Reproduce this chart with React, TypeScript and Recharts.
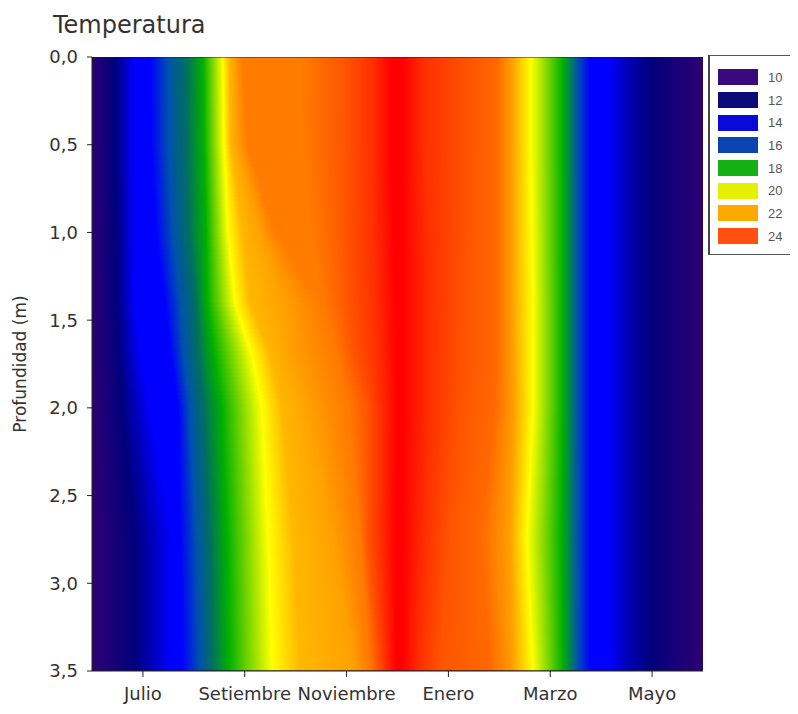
import React from 'react'
import { ComposedChart, XAxis, YAxis, ReferenceArea, Legend } from 'recharts'

// axis ticks
const MONTH_TICKS = [1, 3, 5, 7, 9, 11]
const MONTH_LABELS = ['Julio', 'Setiembre', 'Noviembre', 'Enero', 'Marzo', 'Mayo']
const DEPTH_TICKS = [0, 0.5, 1, 1.5, 2, 2.5, 3, 3.5]
const X_MAX = 12
const DEPTH_MAX = 3.5

// legend
const LEGEND_LEVELS = [10, 12, 14, 16, 18, 20, 22, 24]
const LEGEND_COLORS = ['#3a0a7c', '#0c0a78', '#0a0ad8', '#0a44b0', '#14b014', '#e4f000', '#ffa800', '#ff5010']

// colour scale used for the field (°C -> colour)
const SCALE_TEMPS = [10, 11, 12, 13, 14, 15, 16, 17, 18, 19, 20, 21, 22, 23, 24, 25, 26]
const SCALE_COLORS = [
  '#2e0074', '#180078', '#00007c', '#0000c0', '#0000ff', '#0038e0', '#0050b0', '#007060', '#00b000',
  '#90e000', '#ffff00', '#ffd000', '#ffa000', '#ff7c00', '#ff5400', '#ff3000', '#ff0000',
]

// depth rows where the isotherm positions were read (m)
const DEPTH_ROWS = [0, 0.5, 1.0, 1.4, 1.7, 2.0, 2.75, 3.5]

// warming limb: temperature levels and the month where each is reached, per depth row
const WARM_TEMPS = [10, 12, 14, 14, 16, 17, 18, 20, 21.5, 22, 23, 23, 24, 25, 26]
const WARM_MONTHS = [
  [0, 0.45, 0.84, 1.14, 1.49, 1.85, 2.18, 2.57, 2.69, 2.79, 2.95, 4.12, 4.97, 5.5, 5.89],
  [0, 0.45, 0.84, 1.16, 1.5, 1.86, 2.2, 2.59, 2.72, 2.85, 3.05, 4.1, 4.97, 5.5, 5.89],
  [0, 0.47, 0.84, 1.25, 1.58, 1.9, 2.24, 2.67, 2.95, 3.3, 3.6, 4.3, 5.0, 5.52, 5.93],
  [0, 0.49, 0.84, 1.43, 1.73, 2.04, 2.26, 2.81, 3.1, 3.79, 4.48, 4.52, 5.03, 5.56, 5.97],
  [0, 0.53, 0.95, 1.55, 1.8, 2.08, 2.4, 3.14, 3.5, 3.9, 4.75, 4.8, 5.15, 5.6, 5.99],
  [0, 0.59, 1.14, 1.69, 1.92, 2.2, 2.55, 3.34, 3.73, 4.28, 4.97, 5.01, 5.42, 5.66, 6.01],
  [0.04, 0.84, 1.57, 1.73, 2.04, 2.32, 2.65, 3.46, 3.97, 4.73, 5.22, 5.26, 5.42, 5.66, 5.97],
  [0.04, 0.84, 1.57, 1.77, 2.12, 2.36, 2.69, 3.54, 4.09, 5.17, 5.42, 5.46, 5.62, 5.77, 5.97],
]

// cooling limb
const COOL_TEMPS = [26, 25, 24, 23.5, 22, 20, 18, 16, 14, 14, 13, 12, 11, 10]
const COOL_MONTHS = [
  [6.09, 6.54, 7.42, 7.95, 8.25, 8.62, 9.25, 9.54, 9.78, 10.17, 10.47, 10.96, 11.45, 12],
  [6.09, 6.54, 7.42, 7.95, 8.25, 8.62, 9.25, 9.54, 9.78, 10.17, 10.47, 10.96, 11.45, 12],
  [6.09, 6.6, 7.38, 7.95, 8.25, 8.64, 9.25, 9.54, 9.78, 10.17, 10.47, 10.96, 11.45, 12],
  [6.09, 6.64, 7.33, 7.95, 8.25, 8.66, 9.25, 9.54, 9.78, 10.17, 10.47, 10.96, 11.45, 12],
  [6.09, 6.64, 7.3, 7.93, 8.27, 8.66, 9.25, 9.54, 9.78, 10.17, 10.47, 10.96, 11.45, 12],
  [6.09, 6.64, 7.23, 7.91, 8.29, 8.66, 9.25, 9.54, 9.78, 10.17, 10.47, 10.96, 11.45, 12],
  [6.09, 6.54, 7.03, 7.62, 8.21, 8.54, 9.23, 9.54, 9.78, 10.17, 10.47, 10.96, 11.45, 12],
  [6.09, 6.44, 6.83, 7.82, 8.27, 8.66, 9.25, 9.54, 9.78, 10.17, 10.47, 10.96, 11.45, 12],
]

const FONT = '"DejaVu Sans", sans-serif'
const BAND_STEP = 0.025

const hexToRgb = (h: string) => [1, 3, 5].map(i => parseInt(h.slice(i, i + 2), 16))

function tempColor(t: number) {
  const v = Math.max(SCALE_TEMPS[0], Math.min(SCALE_TEMPS[SCALE_TEMPS.length - 1], t))
  let i = 0
  while (i < SCALE_TEMPS.length - 2 && v > SCALE_TEMPS[i + 1]) i++
  const f = (v - SCALE_TEMPS[i]) / (SCALE_TEMPS[i + 1] - SCALE_TEMPS[i])
  const a = hexToRgb(SCALE_COLORS[i])
  const b = hexToRgb(SCALE_COLORS[i + 1])
  const c = a.map((x, k) => Math.round(x + (b[k] - x) * f))
  return `rgb(${c[0]},${c[1]},${c[2]})`
}

const lerp = (a: number, b: number, t: number) => a + (b - a) * t

// thin horizontal bands, each filled with a gradient through the isotherm positions
const bands = Array.from({ length: Math.round(DEPTH_MAX / BAND_STEP) }, (_, i) => {
  const y1 = i * BAND_STEP
  const y2 = Math.min(DEPTH_MAX, y1 + BAND_STEP * 1.5)
  const dc = y1 + BAND_STEP / 2
  let k = 0
  while (k < DEPTH_ROWS.length - 2 && dc > DEPTH_ROWS[k + 1]) k++
  const t = (dc - DEPTH_ROWS[k]) / (DEPTH_ROWS[k + 1] - DEPTH_ROWS[k])
  const stops = [
    ...WARM_TEMPS.map((T, j) => ({ m: lerp(WARM_MONTHS[k][j], WARM_MONTHS[k + 1][j], t), T })),
    ...COOL_TEMPS.map((T, j) => ({ m: lerp(COOL_MONTHS[k][j], COOL_MONTHS[k + 1][j], t), T })),
  ]
  return { id: `band-${i}`, y1, y2, stops }
})

const fmtDepth = (v: number) => v.toFixed(1).replace('.', ',')
const fmtMonth = (v: number) => MONTH_LABELS[MONTH_TICKS.indexOf(v)] ?? ''

function LegendBox() {
  return (
    <div
      style={{
        width: 87,
        height: 200,
        boxSizing: 'border-box',
        border: '1px solid #555',
        borderLeft: '2px solid #444',
        background: '#fff',
        paddingTop: 10,
        fontFamily: '"Liberation Sans", Arial, sans-serif',
        fontSize: 13,
        color: '#555',
      }}
    >
      {LEGEND_LEVELS.map((lvl, i) => (
        <div key={lvl} style={{ height: 22.7, display: 'flex', alignItems: 'center' }}>
          <div style={{ width: 40, height: 16, marginLeft: 8, background: LEGEND_COLORS[i] }} />
          <span style={{ marginLeft: 10 }}>{lvl}</span>
        </div>
      ))}
    </div>
  )
}

export default function App() {
  return (
    <div style={{ position: 'relative', width: 790, height: 706 }}>
      <div
        style={{
          position: 'absolute',
          left: 45,
          top: 3,
          fontFamily: FONT,
          fontSize: 24,
          color: '#333',
          lineHeight: 'normal',
        }}
      >
        Temperatura
      </div>
      <ComposedChart width={790} height={706} margin={{ top: 49, right: 95, bottom: 13, left: 12 }}>
        <defs>
          {bands.map(b => (
            <linearGradient key={b.id} id={b.id} x1="0" y1="0" x2="1" y2="0">
              {b.stops.map((s, j) => (
                <stop
                  key={j}
                  offset={Math.max(0, Math.min(1, s.m / X_MAX))}
                  stopColor={tempColor(s.T)}
                />
              ))}
            </linearGradient>
          ))}
        </defs>
        <XAxis
          type="number"
          dataKey="month"
          domain={[0, X_MAX]}
          allowDataOverflow
          ticks={MONTH_TICKS}
          tickFormatter={fmtMonth}
          height={30}
          tickSize={6}
          tickMargin={10}
          stroke="#222"
          tick={{ fill: '#333', fontSize: 18, fontFamily: FONT }}
          interval={0}
        />
        <YAxis
          type="number"
          dataKey="depth"
          domain={[0, DEPTH_MAX]}
          allowDataOverflow
          reversed
          ticks={DEPTH_TICKS}
          tickFormatter={fmtDepth}
          width={72}
          tickSize={5}
          tickMargin={9}
          stroke="#222"
          tick={{ fill: '#333', fontSize: 18, fontFamily: FONT }}
          interval={0}
          label={{
            content: (props: any) => {
              const vb = props.viewBox || { x: 12, y: 49, width: 72, height: 614 }
              const x = vb.x
              const y = vb.y + vb.height / 2
              return (
                <text
                  x={x}
                  y={y}
                  dy="0.35em"
                  textAnchor="middle"
                  transform={`rotate(-90, ${x}, ${y})`}
                  fill="#333"
                  fontSize={17}
                  fontFamily={FONT}
                >
                  Profundidad (m)
                </text>
              )
            },
          }}
        />
        {bands.map(b => (
          <ReferenceArea
            key={b.id}
            x1={0}
            x2={X_MAX}
            y1={b.y1}
            y2={b.y2}
            fill={`url(#${b.id})`}
            fillOpacity={1}
            stroke="none"
            ifOverflow="hidden"
          />
        ))}
        <ReferenceArea
          x1={0}
          x2={X_MAX}
          y1={0}
          y2={DEPTH_MAX}
          fill="none"
          stroke="#1c1040"
          strokeWidth={1}
          ifOverflow="hidden"
        />
        <Legend
          layout="vertical"
          align="center"
          verticalAlign="middle"
          content={() => <LegendBox />}
          wrapperStyle={{ position: 'absolute', left: 700, top: 47, right: 'auto', bottom: 'auto', width: 87 }}
        />
      </ComposedChart>
    </div>
  )
}
